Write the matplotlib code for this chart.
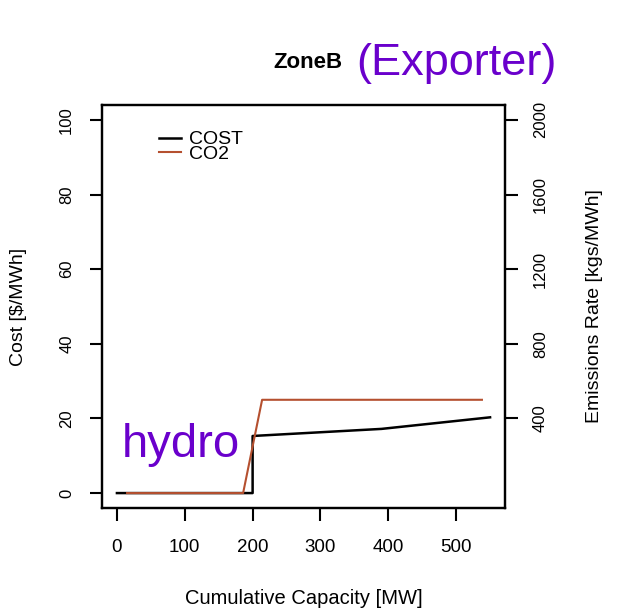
import matplotlib
matplotlib.use("Agg")
import matplotlib.pyplot as plt

plt.rcParams['font.family'] = ['Liberation Sans', 'DejaVu Sans']

# cumulative capacity [MW] vs cost [$/MWh]
cost_mw = [0, 200, 200, 390, 550]
cost_val = [0, 0, 15.3, 17.2, 20.3]

# cumulative capacity [MW] vs emissions rate [kgs/MWh]
co2_mw = [15, 186, 214, 538]
co2_val = [0, 0, 500, 500]

x_ticks = [0, 100, 200, 300, 400, 500]
cost_ticks = [0, 20, 40, 60, 80, 100]
co2_ticks = [400, 800, 1200, 1600, 2000]

co2_color = '#b5502f'
purple = '#6a00cc'

fig = plt.figure(figsize=(6.36, 6.12), dpi=100)
ax = fig.add_axes([102 / 636, 104 / 612, 403 / 636, 403 / 612])
ax2 = ax.twinx()

l1, = ax.plot(cost_mw, cost_val, color='black', lw=1.8, label='COST')
l2, = ax2.plot(co2_mw, co2_val, color=co2_color, lw=1.5, label='CO2')

ax.set_xlim(-22, 572)
ax.set_ylim(-4, 104)
ax2.set_ylim(-80, 2080)

ax.set_xticks(x_ticks)
ax.set_yticks(cost_ticks)
ax2.set_yticks(co2_ticks)

for a in (ax, ax2):
    for s in a.spines.values():
        s.set_linewidth(1.6)
ax.tick_params(axis='x', length=9, width=1.5, pad=13, labelsize=13.5)
ax.tick_params(axis='y', length=9, width=1.5, pad=11, labelsize=12)
ax2.tick_params(axis='y', length=9, width=1.5, pad=11, labelsize=12)
for t in ax.get_yticklabels() + ax2.get_yticklabels():
    t.set_rotation(90)
    t.set_va('center')

ax.set_xlabel('Cumulative Capacity [MW]', fontsize=14.5)
ax.set_ylabel('Cost [$/MWh]', fontsize=14)
ax2.set_ylabel('Emissions Rate [kgs/MWh]', fontsize=14)
ax.xaxis.set_label_coords(0.5, -0.2)
ax.yaxis.set_label_coords(-0.185, 0.5)
ax2.yaxis.set_label_coords(1.2, 0.5)

ax.legend(handles=[l1, l2], loc='upper left', bbox_to_anchor=(0.118, 0.96),
          frameon=False, fontsize=14, handlelength=1.1, handletextpad=0.45,
          labelspacing=-0.15, borderpad=0)

fig.text(342 / 636, 1 - 62 / 612, 'ZoneB', fontsize=16, fontweight='bold',
         ha='right', va='center')
fig.text(356 / 636, 1 - 63 / 612, '(Exporter)', fontsize=32.5, color=purple,
         ha='left', va='center')
ax.text(7, 12.8, 'hydro', fontsize=34, color=purple, ha='left', va='center')

fig.savefig('out.png', dpi=100)
